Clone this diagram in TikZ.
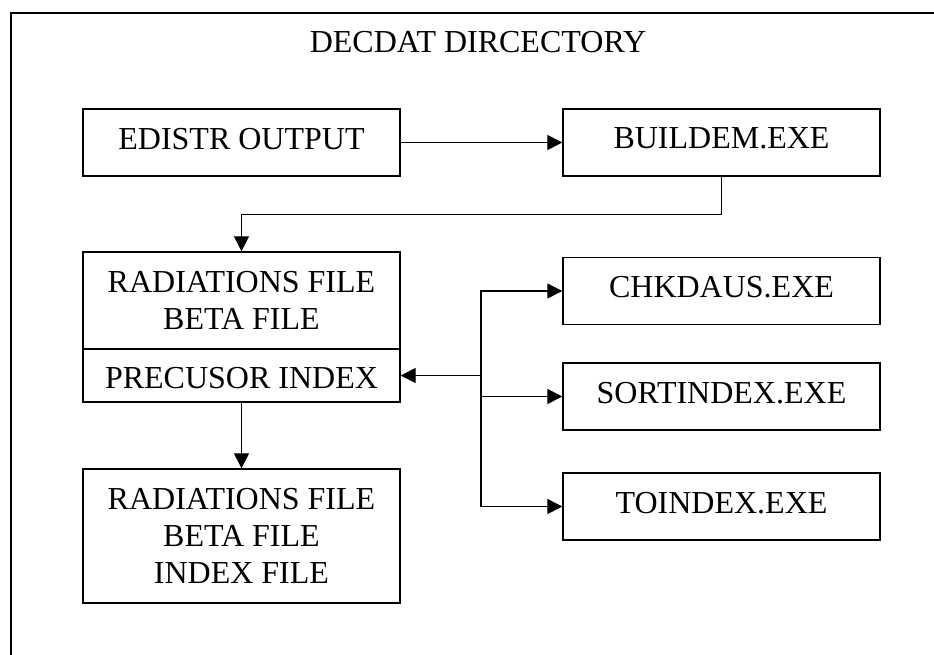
\documentclass[tikz,border=0pt]{standalone}
\usepackage{fontspec}
\setmainfont{Liberation Serif}
\usetikzlibrary{arrows.meta}
\begin{document}
\begin{tikzpicture}[x=1pt,y=-1pt,
  every node/.style={font=\fontsize{32}{36.8}\selectfont},
  box/.style={draw,line width=1.4pt,minimum width=317pt,inner sep=0pt,align=center},
  onebox/.style={box,minimum height=67pt,text depth=8pt},
  arr/.style={line width=1.3pt,-{Triangle[length=15pt,width=15pt]}},
  con/.style={line width=1.4pt}]
\useasboundingbox (0,0) rectangle (934,654);
\draw[con] (11,680) -- (11,13) -- (960,13);
\node (title) at (478,42.5) {DECDAT DIRCECTORY};
\node[onebox] (edistr) at (241.5,142.5) {EDISTR OUTPUT};
\node[onebox] (buildem) at (721.5,142.5) {BUILDEM.EXE};
\node[box,minimum height=97pt] (rad) at (241.5,300.5) {RADIATIONS FILE\\BETA FILE};
\node[box,minimum height=53pt,text height=27pt] (prec) at (241.5,375.5) {PRECUSOR INDEX};
\node[box,minimum height=134pt] (out) at (241.5,536) {RADIATIONS FILE\\BETA FILE\\INDEX FILE};
\node[onebox] (chk) at (721.5,291) {CHKDAUS.EXE};
\node[onebox] (sort) at (721.5,396.5) {SORTINDEX.EXE};
\node[onebox] (toi) at (721.5,506.5) {TOINDEX.EXE};
\coordinate (sp) at (481,375.5);
\draw[arr] (edistr.east) -- (buildem.west);
\draw[arr] (buildem.south) -- ++(0,38) -| (rad.north);
\draw[arr] (prec.south) -- (out.north);
\draw[arr] (sp) -- (prec.east);
\draw[arr] (sp) |- (chk.west);
\draw[arr] (sp) |- (sort.west);
\draw[arr] (sp) |- (toi.west);
\end{tikzpicture}
\end{document}
